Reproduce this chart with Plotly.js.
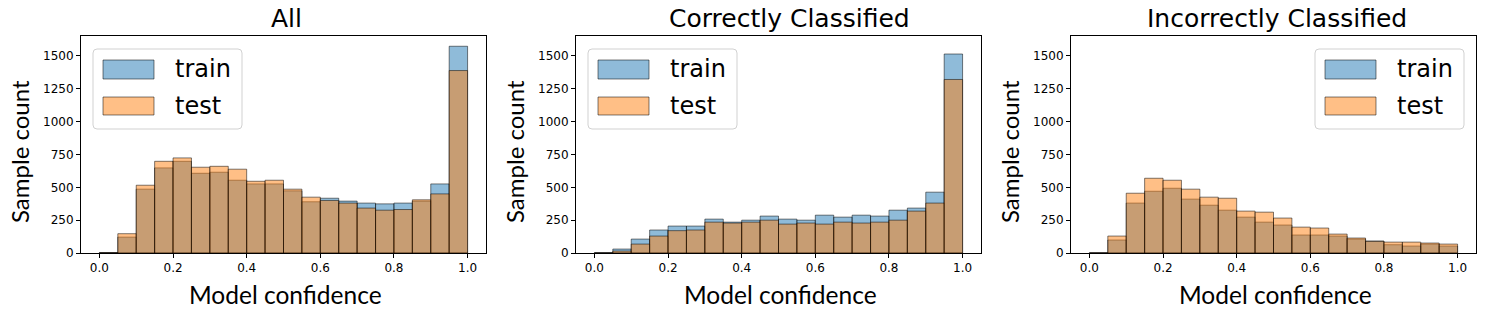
<!DOCTYPE html>
<html>
<head>
<meta charset="utf-8">
<script src="https://cdn.plot.ly/plotly-3.0.1.min.js"></script>
<style>html,body{margin:0;padding:0;background:#fff;}#chart{width:1500px;height:319px;}</style>
</head>
<body>
<div id="chart"></div>
<script>
// Bin centres (bin width 0.05, 0..1)
var binCenters = [0.025,0.075,0.125,0.175,0.225,0.275,0.325,0.375,0.425,0.475,0.525,0.575,0.625,0.675,0.725,0.775,0.825,0.875,0.925,0.975];
var binWidth = 0.05;

var panelTitles = ["All", "Correctly Classified", "Incorrectly Classified"];
var seriesNames = ["train", "test"];

var allTrain  = [3,121,486,648,698,607,615,554,526,526,473,390,417,395,380,374,380,395,526,1574];
var allTest   = [2,147,516,698,724,653,660,638,546,554,486,425,400,380,342,326,331,405,450,1389];
var corrTrain = [2,30,106,175,205,205,258,235,250,281,258,250,288,273,288,281,326,342,463,1515];
var corrTest  = [1,15,68,129,170,175,235,228,235,250,220,228,220,235,228,235,250,319,380,1321];
var incTrain  = [1,99,380,470,493,410,364,326,273,235,213,137,137,129,106,91,63,53,68,53];
var incTest   = [1,129,455,569,554,486,425,417,319,311,266,197,190,144,114,89,83,83,76,68];

var yTicks = [0,250,500,750,1000,1250,1500];
var xTicks = [0,0.2,0.4,0.6,0.8,1.0];
var xLabel = "Model confidence";
var yLabel = "Sample count";

var W = 1500, H = 319;
var colTrain = "rgba(31,119,180,0.5)";
var colTest = "rgba(255,127,14,0.5)";
var edge = "rgba(0,0,0,0.5)";

function px(x){ return x / W; }
function py(y){ return 1 - y / H; }

// plot areas in pixels
var panels = [
  {l: 81, r: 486, legendSide: "left", titleX: 286},
  {l: 576, r: 981, legendSide: "left", titleX: 789},
  {l: 1071, r: 1476, legendSide: "right", titleX: 1277}
];
var plotTop = 36, plotBottom = 253;

var dataSets = [[allTrain, allTest],[corrTrain, corrTest],[incTrain, incTest]];
var traces = [];
var layout = {
  width: W, height: H,
  margin: {l:0, r:0, t:0, b:0},
  paper_bgcolor: "#fff", plot_bgcolor: "#fff",
  barmode: "overlay",
  showlegend: false,
  font: {family: "DejaVu Sans", color: "#000"},
  shapes: [], annotations: []
};

panels.forEach(function(p, i){
  var sfx = i === 0 ? "" : String(i+1);
  var xa = "x" + sfx, ya = "y" + sfx;
  [0,1].forEach(function(k){
    traces.push({
      type: "bar", x: binCenters, y: dataSets[i][k], width: binWidth,
      name: seriesNames[k], xaxis: xa, yaxis: ya,
      marker: {color: k === 0 ? colTrain : colTest, line: {color: edge, width: 1}},
      hoverinfo: "x+y+name"
    });
  });
  layout["xaxis" + sfx] = {
    domain: [px(p.l), px(p.r)], anchor: ya, range: [-0.05, 1.05],
    tickvals: xTicks, tickformat: ".1f", ticks: "outside", ticklen: 4, tickcolor: "#000",
    showline: true, mirror: true, linecolor: "#000", linewidth: 1,
    showgrid: false, zeroline: false, tickfont: {family: "DejaVu Sans", size: 12, color: "#000"},
    fixedrange: true
  };
  layout["yaxis" + sfx] = {
    domain: [py(plotBottom), py(plotTop)], anchor: xa, range: [0, 1652],
    tickvals: yTicks, ticks: "outside", ticklen: 4, tickcolor: "#000",
    showline: true, mirror: true, linecolor: "#000", linewidth: 1,
    showgrid: false, zeroline: false, tickfont: {family: "DejaVu Sans", size: 12, color: "#000"},
    fixedrange: true
  };
  // titles
  layout.annotations.push({
    text: panelTitles[i], xref: "paper", yref: "paper",
    x: px(p.titleX), y: py(19), xanchor: "center", yanchor: "middle",
    showarrow: false, font: {family: "DejaVu Sans", size: 25, color: "#000"}
  });
  layout.annotations.push({
    text: xLabel, xref: "paper", yref: "paper",
    x: px((p.l + p.r)/2 + 2), y: py(294), xanchor: "center", yanchor: "middle",
    showarrow: false, font: {family: "Lato", size: 24.5, color: "#000"}
  });
  layout.annotations.push({
    text: yLabel, xref: "paper", yref: "paper", textangle: -90,
    x: px(p.l - 62), y: py(152), xanchor: "center", yanchor: "middle",
    showarrow: false, font: {family: "Lato", size: 24, color: "#000"}
  });
  // legend box
  var bl = p.legendSide === "left" ? p.l + 12 : p.r - 161;
  var br = bl + 149, bt = 49, bb = 129, rr = 4;
  var path = "M " + px(bl + rr) + "," + py(bt) +
    " L " + px(br - rr) + "," + py(bt) +
    " Q " + px(br) + "," + py(bt) + " " + px(br) + "," + py(bt + rr) +
    " L " + px(br) + "," + py(bb - rr) +
    " Q " + px(br) + "," + py(bb) + " " + px(br - rr) + "," + py(bb) +
    " L " + px(bl + rr) + "," + py(bb) +
    " Q " + px(bl) + "," + py(bb) + " " + px(bl) + "," + py(bb - rr) +
    " L " + px(bl) + "," + py(bt + rr) +
    " Q " + px(bl) + "," + py(bt) + " " + px(bl + rr) + "," + py(bt) + " Z";
  layout.shapes.push({type: "path", xref: "paper", yref: "paper", path: path,
    fillcolor: "rgba(255,255,255,0.8)", line: {color: "rgba(204,204,204,0.9)", width: 1}, layer: "above"});
  var patchY = [[60,79],[97,115]];
  var textY = [69, 106];
  [0,1].forEach(function(k){
    layout.shapes.push({type: "rect", xref: "paper", yref: "paper",
      x0: px(bl + 10), x1: px(bl + 61), y0: py(patchY[k][1]), y1: py(patchY[k][0]),
      fillcolor: k === 0 ? colTrain : colTest, line: {color: edge, width: 1}, layer: "above"});
    layout.annotations.push({
      text: seriesNames[k], xref: "paper", yref: "paper",
      x: px(bl + 80), y: py(textY[k]), xanchor: "left", yanchor: "middle",
      showarrow: false, font: {family: "DejaVu Sans", size: 24, color: "#000"}
    });
  });
});

Plotly.newPlot("chart", traces, layout, {displayModeBar: false, staticPlot: true});
</script>
</body>
</html>
